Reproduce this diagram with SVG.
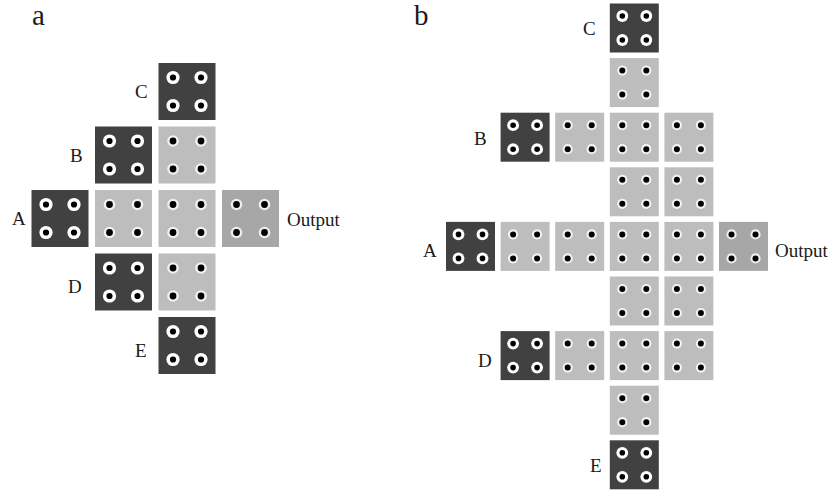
<svg xmlns="http://www.w3.org/2000/svg" width="829" height="490" viewBox="0 0 829 490">
<style>
.dk{fill:#414141}
.lt{fill:#bdbdbd}
.md{fill:#a7a7a7}
.lbl{font-family:"Liberation Serif","Times New Roman",serif;font-size:19px;fill:#1a1a1a}
.out{font-size:19px}
.pan{font-family:"Liberation Serif","Times New Roman",serif;font-size:29px;fill:#1a1a1a}
</style>
<defs>
<filter id="soft" x="-20%" y="-20%" width="140%" height="140%"><feGaussianBlur stdDeviation="0.6"/></filter>
<g id="rA" filter="url(#soft)">
<circle cx="14.5" cy="14.5" r="6.6" fill="#fff"/><circle cx="42.5" cy="14.5" r="6.6" fill="#fff"/>
<circle cx="14.5" cy="42.5" r="6.6" fill="#fff"/><circle cx="42.5" cy="42.5" r="6.6" fill="#fff"/>
<circle cx="14.5" cy="14.5" r="3.1" fill="#000"/><circle cx="42.5" cy="14.5" r="3.1" fill="#000"/>
<circle cx="14.5" cy="42.5" r="3.1" fill="#000"/><circle cx="42.5" cy="42.5" r="3.1" fill="#000"/>
</g>
<g id="lA" filter="url(#soft)">
<circle cx="14.5" cy="14.5" r="5.8" fill="#fff" opacity="0.8"/><circle cx="42.5" cy="14.5" r="5.8" fill="#fff" opacity="0.8"/>
<circle cx="14.5" cy="42.5" r="5.8" fill="#fff" opacity="0.8"/><circle cx="42.5" cy="42.5" r="5.8" fill="#fff" opacity="0.8"/>
<circle cx="14.5" cy="14.5" r="3.4" fill="#000"/><circle cx="42.5" cy="14.5" r="3.4" fill="#000"/>
<circle cx="14.5" cy="42.5" r="3.4" fill="#000"/><circle cx="42.5" cy="42.5" r="3.4" fill="#000"/>
</g>
<g id="rB" filter="url(#soft)">
<circle cx="12.5" cy="12.5" r="5.9" fill="#fff"/><circle cx="36.5" cy="12.5" r="5.9" fill="#fff"/>
<circle cx="12.5" cy="36.5" r="5.9" fill="#fff"/><circle cx="36.5" cy="36.5" r="5.9" fill="#fff"/>
<circle cx="12.5" cy="12.5" r="2.8" fill="#000"/><circle cx="36.5" cy="12.5" r="2.8" fill="#000"/>
<circle cx="12.5" cy="36.5" r="2.8" fill="#000"/><circle cx="36.5" cy="36.5" r="2.8" fill="#000"/>
</g>
<g id="lB" filter="url(#soft)">
<circle cx="12.5" cy="12.5" r="5.1" fill="#fff" opacity="0.8"/><circle cx="36.5" cy="12.5" r="5.1" fill="#fff" opacity="0.8"/>
<circle cx="12.5" cy="36.5" r="5.1" fill="#fff" opacity="0.8"/><circle cx="36.5" cy="36.5" r="5.1" fill="#fff" opacity="0.8"/>
<circle cx="12.5" cy="12.5" r="3" fill="#000"/><circle cx="36.5" cy="12.5" r="3" fill="#000"/>
<circle cx="12.5" cy="36.5" r="3" fill="#000"/><circle cx="36.5" cy="36.5" r="3" fill="#000"/>
</g>
</defs>
<rect width="829" height="490" fill="#fff"/>

<g id="panel-a">
<text class="pan" x="32" y="25">a</text>
<g id="a-C"><rect class="dk" x="158.5" y="63" width="57" height="57"/><use href="#rA" x="158.5" y="63"/><text class="lbl" x="135" y="98">C</text></g>
<g id="a-B"><rect class="dk" x="95" y="126.5" width="57" height="57"/><use href="#rA" x="95" y="126.5"/><text class="lbl" x="70" y="162">B</text></g>
<g id="a-r1c2"><rect class="lt" x="158.5" y="126.5" width="57" height="57"/><use href="#lA" x="158.5" y="126.5"/></g>
<g id="a-A"><rect class="dk" x="31.5" y="190" width="57" height="57"/><use href="#rA" x="31.5" y="190"/><text class="lbl" x="12" y="225">A</text></g>
<g id="a-r2c1"><rect class="lt" x="95" y="190" width="57" height="57"/><use href="#lA" x="95" y="190"/></g>
<g id="a-r2c2"><rect class="lt" x="158.5" y="190" width="57" height="57"/><use href="#lA" x="158.5" y="190"/></g>
<g id="a-Output"><rect class="md" x="222" y="190" width="57" height="57"/><use href="#lA" x="222" y="190"/><text class="lbl out" x="287" y="226">Output</text></g>
<g id="a-D"><rect class="dk" x="95" y="253.5" width="57" height="57"/><use href="#rA" x="95" y="253.5"/><text class="lbl" x="68" y="293">D</text></g>
<g id="a-r3c2"><rect class="lt" x="158.5" y="253.5" width="57" height="57"/><use href="#lA" x="158.5" y="253.5"/></g>
<g id="a-E"><rect class="dk" x="158.5" y="317" width="57" height="57"/><use href="#rA" x="158.5" y="317"/><text class="lbl" x="135" y="357">E</text></g>
</g>

<g id="panel-b">
<text class="pan" x="414" y="25">b</text>
<g id="b-C"><rect class="dk" x="609.8" y="3.5" width="49" height="49"/><use href="#rB" x="609.8" y="3.5"/><text class="lbl" x="583" y="35">C</text></g>
<g id="b-r1c3"><rect class="lt" x="609.8" y="58.1" width="49" height="49"/><use href="#lB" x="609.8" y="58.1"/></g>
<g id="b-B"><rect class="dk" x="500.6" y="112.7" width="49" height="49"/><use href="#rB" x="500.6" y="112.7"/><text class="lbl" x="474" y="145">B</text></g>
<g id="b-r2c2"><rect class="lt" x="555.2" y="112.7" width="49" height="49"/><use href="#lB" x="555.2" y="112.7"/></g>
<g id="b-r2c3"><rect class="lt" x="609.8" y="112.7" width="49" height="49"/><use href="#lB" x="609.8" y="112.7"/></g>
<g id="b-r2c4"><rect class="lt" x="664.4" y="112.7" width="49" height="49"/><use href="#lB" x="664.4" y="112.7"/></g>
<g id="b-r3c3"><rect class="lt" x="609.8" y="167.3" width="49" height="49"/><use href="#lB" x="609.8" y="167.3"/></g>
<g id="b-r3c4"><rect class="lt" x="664.4" y="167.3" width="49" height="49"/><use href="#lB" x="664.4" y="167.3"/></g>
<g id="b-A"><rect class="dk" x="446" y="221.9" width="49" height="49"/><use href="#rB" x="446" y="221.9"/><text class="lbl" x="423" y="257">A</text></g>
<g id="b-r4c1"><rect class="lt" x="500.6" y="221.9" width="49" height="49"/><use href="#lB" x="500.6" y="221.9"/></g>
<g id="b-r4c2"><rect class="lt" x="555.2" y="221.9" width="49" height="49"/><use href="#lB" x="555.2" y="221.9"/></g>
<g id="b-r4c3"><rect class="lt" x="609.8" y="221.9" width="49" height="49"/><use href="#lB" x="609.8" y="221.9"/></g>
<g id="b-r4c4"><rect class="lt" x="664.4" y="221.9" width="49" height="49"/><use href="#lB" x="664.4" y="221.9"/></g>
<g id="b-Output"><rect class="md" x="719" y="221.9" width="49" height="49"/><use href="#lB" x="719" y="221.9"/><text class="lbl out" x="775" y="257">Output</text></g>
<g id="b-r5c3"><rect class="lt" x="609.8" y="276.5" width="49" height="49"/><use href="#lB" x="609.8" y="276.5"/></g>
<g id="b-r5c4"><rect class="lt" x="664.4" y="276.5" width="49" height="49"/><use href="#lB" x="664.4" y="276.5"/></g>
<g id="b-D"><rect class="dk" x="500.6" y="331.1" width="49" height="49"/><use href="#rB" x="500.6" y="331.1"/><text class="lbl" x="478" y="367">D</text></g>
<g id="b-r6c2"><rect class="lt" x="555.2" y="331.1" width="49" height="49"/><use href="#lB" x="555.2" y="331.1"/></g>
<g id="b-r6c3"><rect class="lt" x="609.8" y="331.1" width="49" height="49"/><use href="#lB" x="609.8" y="331.1"/></g>
<g id="b-r6c4"><rect class="lt" x="664.4" y="331.1" width="49" height="49"/><use href="#lB" x="664.4" y="331.1"/></g>
<g id="b-r7c3"><rect class="lt" x="609.8" y="385.7" width="49" height="49"/><use href="#lB" x="609.8" y="385.7"/></g>
<g id="b-E"><rect class="dk" x="609.8" y="440.3" width="49" height="49"/><use href="#rB" x="609.8" y="440.3"/><text class="lbl" x="590" y="472">E</text></g>
</g>
</svg>
